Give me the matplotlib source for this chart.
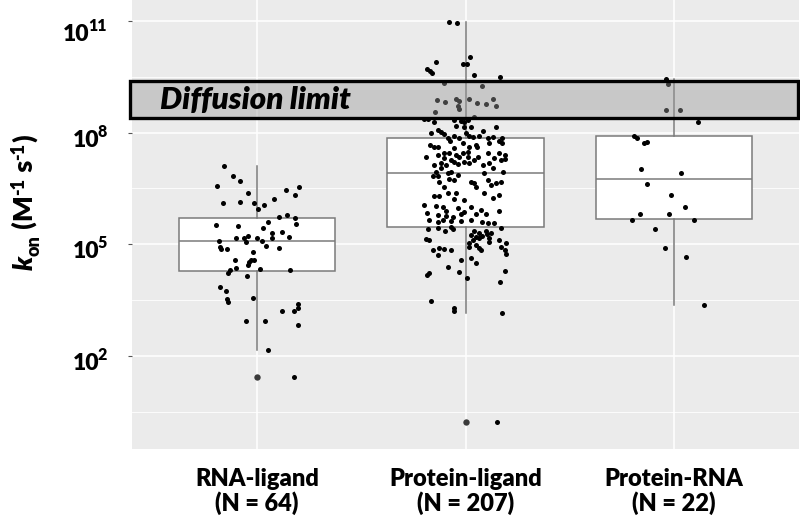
import matplotlib
matplotlib.use("Agg")
import matplotlib.pyplot as plt
from matplotlib import cbook
from matplotlib.patches import Rectangle
import numpy as np

plt.rcParams["font.family"] = ["Lato", "DejaVu Sans"]

# ── Data (log10 kon, horizontal jitter in category units) ────────────────────

CATEGORIES = ["RNA-ligand\n(N = 64)", "Protein-ligand\n(N = 207)", "Protein-RNA\n(N = 22)"]

rna_ligand_log = [
    7.11, 6.82, 6.70, 6.56, 6.47, 6.53, 6.37, 6.31, 6.12, 6.14, 6.12, 6.06, 6.21,
    5.95, 5.73, 5.79, 5.70, 5.52, 5.48, 5.60, 5.54, 5.43, 5.30, 5.32, 5.20,
    5.10, 5.16, 5.17, 5.23, 5.06, 5.18, 5.10, 5.16, 4.96, 4.91, 4.92, 4.87,
    4.86, 4.79, 4.58, 4.53, 4.57, 4.57, 4.45, 4.35, 4.33, 4.30, 4.30, 4.23,
    4.16, 3.84, 3.75, 3.53, 3.46, 3.56, 3.39, 3.28, 3.22, 3.20, 2.95, 2.93,
    2.82, 2.16, 1.44,
]
rna_ligand_jit = [
    -0.160, -0.115, -0.080, -0.194, 0.138, 0.202, -0.045, 0.183, -0.165, -0.080, -0.014, 0.034, 0.083,
    0.005, 0.107, 0.143, 0.183, -0.199, -0.090, 0.053, 0.186, 0.029, 0.074, 0.122, 0.152,
    -0.183, -0.100, -0.061, -0.042, -0.054, -0.002, 0.022, 0.071, 0.045, 0.104, -0.176, -0.171,
    -0.144, -0.021, -0.104, -0.038, -0.030, -0.016, -0.042, -0.100, 0.013, 0.157, -0.128, -0.138,
    -0.050, -0.178, -0.149, -0.144, -0.138, -0.021, 0.197, 0.196, 0.178, 0.119, -0.054, 0.040,
    0.196, 0.053, 0.178,
]

protein_ligand_log = [
    # above the box
    10.96, 10.94, 10.03, 9.84, 9.84, 9.90, 9.70, 9.65, 9.59, 9.54, 9.48, 9.34, 9.24,
    8.88, 8.82, 8.91, 8.86, 8.70, 8.63, 8.90, 8.79, 8.76, 8.90, 8.71, 8.54, 8.43,
    8.36, 8.36, 8.27, 8.34, 8.32, 8.27, 8.34, 8.14, 8.18, 8.16, 8.16,
    8.00, 8.02, 7.95, 7.91, 7.91, 7.87, 7.92, 7.86,
    8.07, 7.85, 7.85, 8.03, 7.89, 7.98, 7.86,
    # inside the box
    7.67, 7.60, 7.62, 7.76, 7.58, 7.71, 7.62, 7.67, 7.60, 7.71, 7.76, 7.71,
    7.35, 7.40, 7.44, 7.46, 7.40, 7.35, 7.44, 7.49, 7.35, 7.35, 7.44, 7.31, 7.44, 7.28,
    7.13, 7.17, 7.13, 7.16, 7.22, 7.26, 7.17, 7.26,
    6.95, 7.04, 6.91, 6.95, 6.86, 6.95,
    6.82, 6.68, 6.74, 6.73,
    6.68, 6.64, 6.55, 6.73, 6.59, 6.68,
    6.30, 6.30, 6.21, 6.37, 6.37, 6.23, 6.32,
    6.05, 6.03, 6.01, 5.90, 5.96, 5.90,
    5.85, 5.79, 5.76, 5.74, 5.81, 5.87, 5.81, 5.81,
    5.65, 5.61, 5.65, 5.63, 5.63, 5.65, 5.61, 5.58, 5.56,
    # below the box
    5.40, 5.43, 5.36, 5.42, 5.36, 5.31, 5.36, 5.43,
    5.13, 5.11, 5.25, 5.20, 5.11, 5.16, 5.22, 5.27, 5.16,
    5.02, 4.98, 5.07, 5.11, 4.93, 4.89, 5.02, 4.93,
    4.84, 4.89, 4.86, 4.84, 4.71, 4.84, 4.84, 4.75,
    4.58, 4.62, 4.50, 4.40,
    7.40, 7.31, 7.26, 7.17, 7.13, 7.04, 6.82, 6.55, 6.19, 6.01, 5.47, 5.29,
    7.22, 6.91, 6.64, 6.37, 5.92,
    4.17, 4.23, 4.26, 4.08, 3.99, 4.28, 3.47, 3.28, 3.21, 3.14, 0.23,
]
protein_ligand_jit = [
    -0.077, -0.042, 0.022, -0.011, 0.005, -0.141, -0.184, -0.171, -0.159, 0.042, 0.167, -0.101, 0.077,
    -0.135, -0.096, -0.045, -0.029, -0.034, -0.032, 0.018, 0.056, 0.096, 0.131, 0.147, -0.144, 0.043,
    -0.197, -0.178, -0.149, -0.056, -0.021, -0.005, 0.011, -0.008, -0.045, 0.027, 0.146,
    -0.165, -0.117, -0.101, -0.056, 0.019, 0.035, 0.067, 0.176,
    -0.133, -0.085, -0.029, 0.083, 0.131, 0.003, 0.107,
    -0.168, -0.152, -0.133, -0.074, -0.053, -0.013, 0.019, 0.048, 0.056, 0.115, 0.163, 0.175,
    -0.189, -0.133, -0.101, -0.077, -0.045, -0.029, -0.013, 0.011, 0.011, 0.059, 0.107, 0.139, 0.163, 0.188,
    -0.149, -0.117, -0.093, -0.037, -0.005, 0.043, 0.115, 0.171,
    -0.141, -0.117, -0.085, -0.069, -0.037, 0.179,
    -0.133, -0.125, -0.077, -0.053,
    0.027, 0.043, 0.051, 0.107, 0.123, 0.171,
    -0.149, -0.125, -0.053, -0.045, 0.091, 0.131, 0.163,
    -0.197, -0.141, -0.109, -0.093, -0.037, 0.163,
    -0.184, -0.133, -0.093, -0.061, -0.021, -0.008, 0.051, 0.099,
    -0.173, -0.133, -0.109, -0.069, -0.021, 0.027, 0.078, 0.107, 0.136,
    -0.181, -0.133, -0.098, -0.061, 0.043, 0.067, 0.099, 0.171,
    -0.189, -0.173, 0.027, 0.048, 0.035, 0.063, 0.078, 0.104, 0.111,
    0.016, 0.051, 0.115, 0.160, 0.019, 0.063, 0.196, 0.168,
    -0.157, -0.125, -0.101, -0.069, -0.133, 0.075, 0.188, 0.196,
    -0.021, 0.027, 0.051, -0.085,
    0.188, -0.101, -0.069, 0.019, 0.083, 0.131, -0.157, -0.101, -0.005, 0.027, -0.069, 0.123,
    -0.053, 0.091, 0.147, -0.085, 0.075,
    -0.184, -0.173, -0.032, 0.008, 0.167, 0.191, -0.165, -0.053, -0.053, 0.176, 0.152,
]

protein_rna_log = [
    9.44, 9.31, 8.61, 8.61, 8.28, 7.91, 7.85, 7.72, 7.75, 7.02, 6.91,
    6.62, 6.32, 6.00, 5.81, 5.81, 5.65, 5.65, 5.41, 4.90, 4.66, 3.37,
]
protein_rna_jit = [
    -0.038, -0.029, -0.038, 0.029, 0.115, -0.192, -0.178, -0.144, -0.130, -0.159, 0.034,
    -0.130, -0.014, 0.053, -0.163, -0.024, -0.202, 0.096, -0.091, -0.043, 0.058, 0.144,
]

Y_EXPONENTS = [2, 5, 8, 11]
DIFFUSION_LOW, DIFFUSION_HIGH = 8.38, 9.39

BOX_GREY = "#7a7a7a"
WEIGHT = "heavy"
PX = 0.72  # points per pixel at dpi 100


def power_label(ax, renderer, exponent, drop_px):
    """Bold '10' with a raised exponent, right-aligned left of the y axis."""
    trans = ax.get_yaxis_transform()
    kw = dict(xycoords=trans, textcoords="offset points", fontweight=WEIGHT,
              ha="right", va="baseline", annotation_clip=False)
    sup = ax.annotate(str(exponent), xy=(0, 10.0 ** exponent),
                      xytext=(-25 * PX, -(drop_px - 10) * PX), fontsize=11.5, **kw)
    w = sup.get_window_extent(renderer).width - 1.5
    ax.annotate("10", xy=(0, 10.0 ** exponent),
                xytext=(-(25 + w) * PX, -drop_px * PX), fontsize=16.5, **kw)


def vertical_label(fig, renderer, x_px, y_px, pieces):
    """Rotated label built from pieces: (text, size, style, baseline shift px)."""
    for text, size, style, shift in pieces:
        t = fig.text((x_px + shift) / 800, y_px / 532, text, rotation=90,
                     rotation_mode="anchor", ha="left", va="baseline",
                     fontsize=size, fontweight=WEIGHT, fontstyle=style)
        y_px += t.get_window_extent(renderer).height


def main() -> None:
    fig = plt.figure(figsize=(8, 5.32), dpi=100)
    ax = fig.add_axes([132 / 800, 1 - 449 / 532, 667 / 800, 449 / 532])
    ax.set_facecolor("#ebebeb")
    for s in ax.spines.values():
        s.set_visible(False)

    groups = [
        (rna_ligand_log, rna_ligand_jit),
        (protein_ligand_log, protein_ligand_jit),
        (protein_rna_log, protein_rna_jit),
    ]
    ax.set_yscale("log")
    for i, (logs, jit) in enumerate(groups):
        pos = i + 1
        st = cbook.boxplot_stats(np.array(logs))[0]
        for key in ("med", "q1", "q3", "whislo", "whishi", "mean", "cilo", "cihi"):
            st[key] = 10 ** st[key]
        st["fliers"] = 10 ** np.asarray(st["fliers"])
        ax.bxp([st], positions=[pos], widths=0.75, patch_artist=True, showcaps=False,
               manage_ticks=False,
               boxprops=dict(facecolor="white", edgecolor=BOX_GREY, linewidth=1.1),
               medianprops=dict(color=BOX_GREY, linewidth=1.1),
               whiskerprops=dict(color=BOX_GREY, linewidth=1.1),
               flierprops=dict(marker="o", markerfacecolor="#3a3a3a",
                               markeredgecolor="none", markersize=4.6))
        ax.scatter(pos + np.array(jit), 10 ** np.array(logs), s=13, c="black",
                   linewidths=0, zorder=3)

    ax.set_ylim(10 ** -0.5, 10 ** 11.56)
    ax.set_xlim(0.4, 3.6)

    ax.set_yticks([10.0 ** e for e in Y_EXPONENTS])
    ax.set_yticklabels([])
    ax.set_yticks([10 ** 0.5, 10 ** 3.5, 10 ** 6.5, 10 ** 9.5], minor=True)
    ax.yaxis.set_minor_formatter(plt.NullFormatter())
    ax.set_xticks([1, 2, 3])
    ax.set_xticklabels(CATEGORIES, fontsize=17, fontweight=WEIGHT, linespacing=1.05)

    ax.tick_params(axis="y", which="major", length=3, width=0.8, color="#555555")
    ax.tick_params(axis="y", which="minor", length=0)
    ax.tick_params(axis="x", length=0, pad=14)

    ax.grid(which="major", color="white", linewidth=1.1)
    ax.grid(which="minor", axis="y", color="white", linewidth=0.6)
    ax.set_axisbelow(True)

    # diffusion limit band
    y0, y1 = 10 ** DIFFUSION_LOW, 10 ** DIFFUSION_HIGH
    ax.add_patch(Rectangle((0.39, y0), 3.205, y1 - y0, facecolor="#999999", alpha=0.42,
                           edgecolor="none", zorder=4, clip_on=False))
    ax.add_patch(Rectangle((0.39, y0), 3.205, y1 - y0, facecolor="none",
                           edgecolor="black", linewidth=2.4, zorder=5, clip_on=False))
    ax.text(0.534, 10 ** ((DIFFUSION_LOW + DIFFUSION_HIGH) / 2), "Diffusion limit",
            fontsize=22.5, fontweight=WEIGHT, fontstyle="italic", ha="left", va="center",
            zorder=6)

    renderer = fig.canvas.get_renderer()
    for e in Y_EXPONENTS:
        power_label(ax, renderer, e, 20 if e == 11 else 14)

    vertical_label(fig, renderer, 33, 532 - 270, [
        ("k", 19.5, "italic", 0),
        ("on", 13, "normal", 6),
        (" (M", 19.5, "normal", 0),
        ("-1", 13, "normal", -9),
        (" s", 19.5, "normal", 0),
        ("-1", 13, "normal", -9),
        (")", 19.5, "normal", 0),
    ])

    fig.savefig("out.png", dpi=100)
    plt.close(fig)


if __name__ == "__main__":
    main()
